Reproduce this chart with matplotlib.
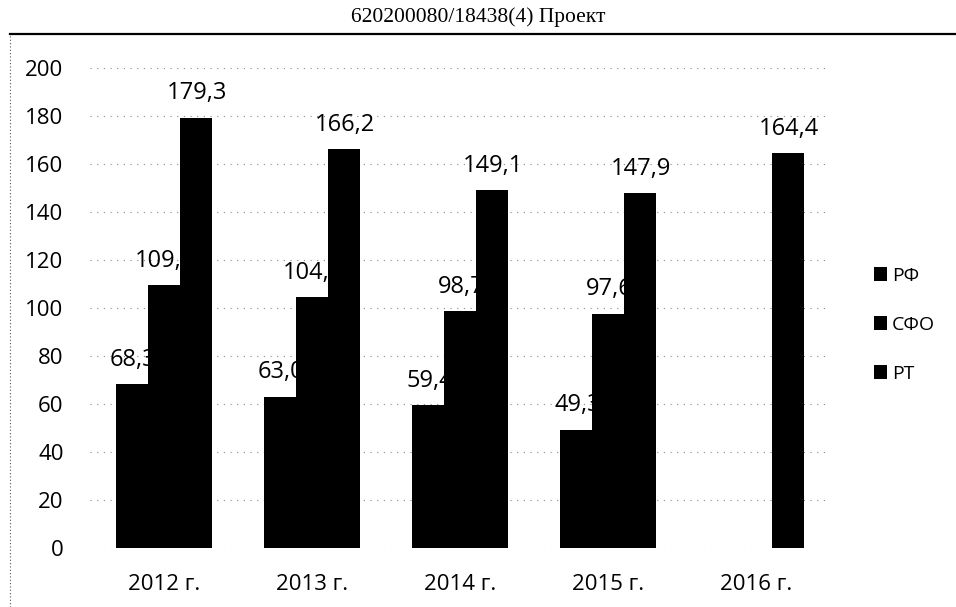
import numpy as np
import matplotlib.pyplot as plt
from matplotlib.lines import Line2D

plt.rcParams['font.family'] = ['Open Sans', 'DejaVu Sans']

# данные
years = ['2012 г.', '2013 г.', '2014 г.', '2015 г.', '2016 г.']
series_names = ['РФ', 'СФО', 'РТ']
rf = [68.3, 63.0, 59.4, 49.3, np.nan]
sfo = [109.5, 104.5, 98.7, 97.6, np.nan]
rt = [179.3, 166.2, 149.1, 147.9, 164.4]
y_ticks = [0, 20, 40, 60, 80, 100, 120, 140, 160, 180, 200]

fig = plt.figure(figsize=(9.56, 6.07), dpi=100)
ax = fig.add_axes([90 / 956, 1 - 548 / 607, 740 / 956, 480 / 607])

x = np.arange(len(years))
w = 0.216
offsets = [-w, 0, w]

for i, vals in enumerate([rf, sfo, rt]):
    ax.bar(x + offsets[i], vals, width=w, color='black', zorder=2 + 2 * i,
           label=series_names[i])
    # подписи значений (следующий ряд перекрывает часть подписи)
    for xi, v in zip(x, vals):
        if np.isnan(v):
            continue
        ax.annotate(f'{v:.1f}'.replace('.', ','), (xi + offsets[i], v),
                    xytext=(1, 9), textcoords='offset points',
                    ha='center', va='bottom', fontsize=17, zorder=3 + 2 * i)

ax.set_xlim(-0.5, len(years) - 0.5)
ax.set_ylim(0, 200)
ax.set_yticks(y_ticks)
ax.set_xticks(x)
ax.set_xticklabels(years)
ax.tick_params(axis='both', length=0, labelsize=16)
ax.tick_params(axis='y', pad=19)
ax.tick_params(axis='x', pad=19)
ax.yaxis.grid(True, color='#888888', linestyle=(0, (1, 5)), linewidth=0.8, zorder=0)
ax.set_axisbelow(True)
for s in ax.spines.values():
    s.set_visible(False)

ax.legend(loc='center left', bbox_to_anchor=(856 / 956, 1 - 325 / 607),
          bbox_transform=fig.transFigure, frameon=False, fontsize=14,
          handlelength=0.7, handleheight=0.7, handletextpad=0.25,
          labelspacing=1.6)

# рамка и шапка документа
fig.add_artist(Line2D([10 / 956, 1], [1 - 34 / 607] * 2, color='black', linewidth=1.6))
fig.add_artist(Line2D([10 / 956] * 2, [0, 1 - 34 / 607], color='#555555',
                      linewidth=0.8, linestyle=(0, (1, 2))))
fig.text(0.5, 1 - 17 / 607, '620200080/18438(4) Проект', ha='center', va='center',
         fontsize=15.5, family='Liberation Serif')

fig.savefig('out.png', dpi=100)
